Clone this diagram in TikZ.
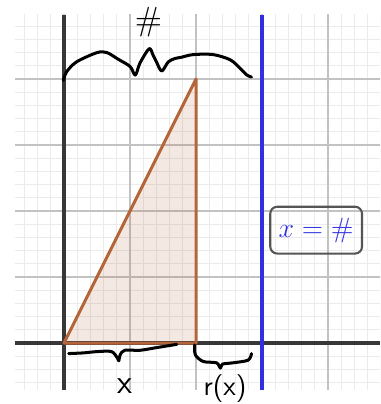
\documentclass[tikz,border=0pt]{standalone}
\usepackage{tikz}
\usetikzlibrary{positioning}
\definecolor{GridMinor}{HTML}{EBEBEB}
\definecolor{GridMajor}{HTML}{C2C2C2}
\definecolor{AxisGray}{HTML}{383838}
\definecolor{Rust}{HTML}{B5653A}
\definecolor{LineBlue}{HTML}{3030E0}
\definecolor{BoxGray}{HTML}{555555}

\begin{document}
\begin{tikzpicture}[
      minorgrid/.style={draw=GridMinor, line width=0.4pt},
      majorgrid/.style={draw=GridMajor, line width=0.7pt},
      axis/.style={draw=AxisGray, line width=1.4pt},
      ink/.style={draw=black, line width=1.3pt, line cap=round, line join=round},
      hand/.style={font=\sffamily, inner sep=0pt},
      eqbox/.style={
        rounded corners=3pt,
        minimum width=1.39cm,
        minimum height=0.71cm,
        draw=BoxGray,
        line width=0.9pt,
        text=LineBlue,
        font=\large
      }
    ]
      \useasboundingbox (-0.970,-0.924) rectangle (4.788,5.197);
      % grid
      \begin{scope}
        \clip (-0.74,-0.71) rectangle (4.788,4.97);
        \draw[minorgrid, step=0.2] (-1,-1) grid (5,5.2);
        \draw[majorgrid, step=1] (-1,-1) grid (5,5.2);
      \end{scope}
      % triangle
      \coordinate (o) at (0,0);
      \coordinate (b) at (2,0);
      \coordinate (t) at (2,4);
      \fill[Rust, fill opacity=0.15] (o) -- (b) -- (t) -- cycle;
      % axes
      \draw[axis] (-0.74,0) -- (4.788,0);
      \draw[axis] (0,-0.71) -- (0,4.97);
      \draw[Rust, line width=1.3pt, line join=round] (o) -- (b) -- (t) -- cycle;
      % vertical line
      \draw[LineBlue, line width=1.4pt] (3,-0.71) -- (3,4.97);
      \node[eqbox] (eq) at (3.82,1.71) {$x=\#$};
      % hand-drawn braces
      \draw[ink] plot[smooth, tension=0.5] coordinates {
        (-0.01,3.98) (0.04,4.11) (0.19,4.26) (0.50,4.40) (0.65,4.40)
        (0.82,4.30) (1.0,4.19) (1.08,4.06) (1.15,4.24) (1.29,4.46)
        (1.35,4.36) (1.40,4.26) (1.48,4.12) (1.58,4.26) (1.68,4.31)
        (1.78,4.33) (1.96,4.37) (2.26,4.37) (2.52,4.29) (2.67,4.16)
        (2.77,4.06) (2.84,4.03)};
      \draw[ink] plot[smooth, tension=0.5] coordinates {
        (0.07,-0.16) (0.29,-0.15) (0.50,-0.13) (0.72,-0.13) (0.81,-0.23)
        (0.83,-0.27) (0.85,-0.18) (0.92,-0.11) (1.15,-0.11) (1.40,-0.07)
        (1.71,-0.02)};
      \draw[ink] plot[smooth, tension=0.5] coordinates {
        (1.98,-0.03) (1.99,-0.18) (2.11,-0.28) (2.31,-0.30) (2.37,-0.38)
        (2.40,-0.32) (2.56,-0.30) (2.79,-0.26) (2.84,-0.16)};
      \node[hand, font=\Large] (hash) at (1.28,4.86) {\#};
      \node[hand, font=\sffamily\Large] (xlab) at (0.92,-0.66) {x};
      \node[hand, font=\sffamily\large] (rlab) at (2.44,-0.69) {r(x)};
    \end{tikzpicture}
\end{document}
